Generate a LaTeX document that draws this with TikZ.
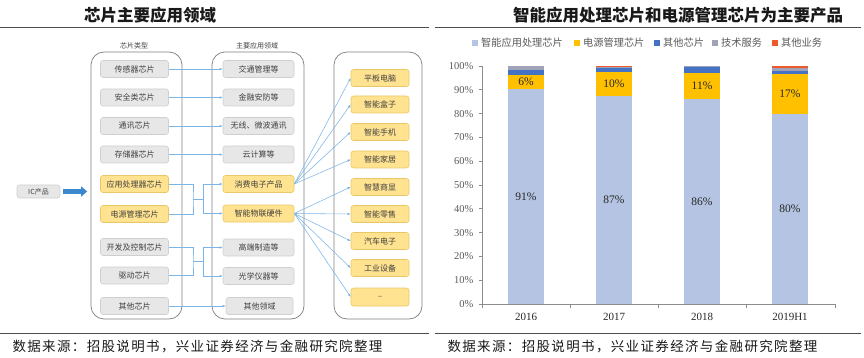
\documentclass[tikz,border=0pt]{standalone}
\usepackage{fontspec}
\setmainfont{Liberation Serif}
\newfontfamily\cjk{Noto Sans CJK SC}
\newfontfamily\cjksp[LetterSpace=10]{Noto Sans CJK SC}
\usetikzlibrary{arrows.meta}
\definecolor{boxgray}{HTML}{E7E7E7}
\definecolor{boxedge}{HTML}{CFCFCF}
\definecolor{boxyel}{HTML}{FFE390}
\definecolor{yeledge}{HTML}{E9C766}
\definecolor{txt}{HTML}{404040}
\definecolor{contgray}{HTML}{7F7F7F}
\definecolor{wireblue}{HTML}{7DB4E8}
\definecolor{bigarrow}{HTML}{3C88CF}
\definecolor{cLight}{HTML}{B4C4E2}
\definecolor{cGold}{HTML}{FFC000}
\definecolor{cBlue}{HTML}{4472C4}
\definecolor{cGrey}{HTML}{A0A3B8}
\definecolor{cRed}{HTML}{EE5A2C}
\definecolor{axisgray}{HTML}{8C8C8C}
\definecolor{lbl}{HTML}{595959}
\tikzset{
  gbox/.style={rounded corners=2.5pt, draw=boxedge, fill=boxgray, line width=0.6pt,
    minimum height=17pt, inner sep=0pt, font=\cjk\fontsize{8}{9}\selectfont, text=txt},
  ybox/.style={gbox, fill=boxyel, draw=yeledge},
  lw/.style={minimum width=68pt},
  mw/.style={minimum width=71pt},
  rw/.style={minimum width=58pt},
  cont/.style={draw=contgray, rounded corners=13pt, line width=0.7pt, inner sep=0pt},
  wire/.style={draw=wireblue, line width=0.55pt},
  wirearr/.style={wire, -{Latex[length=3.2pt,width=2.6pt]}},
  hdr/.style={font=\cjk\fontsize{7}{8}\selectfont, text=txt},
  ttl/.style={font=\cjk\bfseries\fontsize{16.5}{18}\selectfont, text=black!90},
  src/.style={font=\cjksp\fontsize{13.5}{15}\selectfont, text=black!90, anchor=west},
  ylab/.style={font=\fontsize{10.5}{12}\selectfont, text=lbl, anchor=east},
  xlab/.style={font=\fontsize{11}{12}\selectfont, text=black!85},
  dlab/.style={font=\fontsize{11.5}{13}\selectfont, text=black!85},
  legtxt/.style={font=\cjk\fontsize{10.2}{12}\selectfont, text=lbl, anchor=west, inner sep=0pt}
}
\newcommand\barseg[4]{\fill[#4] (#1-18,#2) rectangle (#1+18,#3);}
\begin{document}
\begin{tikzpicture}[x=1pt,y=-1pt]
\useasboundingbox (0,0) rectangle (864,358);
% titles and rules
\node[ttl] (t1) at (150,15) {芯片主要应用领域};
\node[ttl] (t2) at (678,15) {智能应用处理芯片和电源管理芯片为主要产品};
\draw[line width=1pt, black!70] (0,28) -- (429,28);
\draw[line width=1pt, black!70] (435,28) -- (861,28);
\draw[line width=1pt, black!70] (0,333) -- (429,333);
\draw[line width=1pt, black!70] (435,333) -- (861,333);
\node[src] (s1) at (9,346) {数据来源：招股说明书，兴业证券经济与金融研究院整理};
\node[src] (s2) at (444,346) {数据来源：招股说明书，兴业证券经济与金融研究院整理};

% containers
\node[cont, minimum width=91pt, minimum height=267pt] (lc) at (136.5,185.5) {};
\node[cont, minimum width=92pt, minimum height=267pt] (mc) at (258,185.5) {};
\node[cont, minimum width=88pt, minimum height=267pt] (rc) at (378,185.5) {};
\node[hdr] (lh) at (134,46) {芯片类型};
\node[hdr] (mh) at (257,46) {主要应用领域};

% IC product
\node[gbox, minimum width=43pt, minimum height=13pt, font=\cjk\fontsize{7}{8}\selectfont] (ic) at (38.5,191.5) {IC产品};
\draw[bigarrow, line width=4.5pt, -{Triangle[length=6pt,width=10pt]}, shorten <=3pt, shorten >=3.5pt]
  (ic.east) -- (ic.east -| lc.west);

% left boxes
\node[gbox,lw] (l1) at (134.5,69) {传感器芯片};
\node[gbox,lw] (l2) at (134.5,97.5) {安全类芯片};
\node[gbox,lw] (l3) at (134.5,126) {通讯芯片};
\node[gbox,lw] (l4) at (134.5,154.5) {存储器芯片};
\node[ybox,lw] (l5) at (134.5,184) {应用处理器芯片};
\node[ybox,lw] (l6) at (134.5,214) {电源管理芯片};
\node[gbox,lw] (l7) at (134.5,247) {开发及控制芯片};
\node[gbox,lw] (l8) at (134.5,275.5) {驱动芯片};
\node[gbox,lw] (l9) at (134.5,306) {其他芯片};

% middle boxes
\node[gbox,mw] (m1) at (258.5,69) {交通管理等};
\node[gbox,mw] (m2) at (258.5,97.5) {金融安防等};
\node[gbox,mw] (m3) at (258.5,126) {无线、微波通讯};
\node[gbox,mw] (m4) at (258.5,154.5) {云计算等};
\node[ybox,mw] (m5) at (258.5,184) {消费电子产品};
\node[ybox,mw] (m6) at (258.5,213.5) {智能物联硬件};
\node[gbox,mw] (m7) at (258.5,247.5) {高端制造等};
\node[gbox,mw] (m8) at (258.5,276) {光学仪器等};
\node[gbox,minimum width=67pt] (m9) at (259.5,306) {其他领域};

% right boxes
\node[ybox,rw] (r1) at (380,78) {平板电脑};
\node[ybox,rw] (r2) at (380,104.5) {智能盒子};
\node[ybox,rw] (r3) at (380,132) {智能手机};
\node[ybox,rw] (r4) at (380,159.5) {智能家居};
\node[ybox,rw] (r5) at (380,187) {智慧商显};
\node[ybox,rw] (r6) at (380,214) {智能零售};
\node[ybox,rw] (r7) at (380,241) {汽车电子};
\node[ybox,rw] (r8) at (380,268) {工业设备};
\node[ybox,rw,minimum height=18pt,font=\fontsize{8}{9}\selectfont] (r9) at (380,297) {--};

% straight links
\foreach \i in {1,2,3,4,9} {
  \draw[wirearr] (l\i.east) -- (l\i.east -| m\i.west);
}
% merged links
\coordinate (ja) at (193,199);
\coordinate (jb) at (203,199);
\draw[wire] (l5.east) -| (ja) |- (l6.east);
\draw[wire] (ja) -- (jb);
\draw[wirearr] (jb) |- (m5.west);
\draw[wirearr] (jb) |- (m6.west);
\coordinate (jc) at (193,261);
\coordinate (jd) at (203,261);
\draw[wire] (l7.east) -| (jc) |- (l8.east);
\draw[wire] (jc) -- (jd);
\draw[wirearr] (jd) |- (m7.west);
\draw[wirearr] (jd) |- (m8.west);
% fans
\foreach \j in {1,2,3,4} { \draw[wirearr] (m5.east) -- (r\j.west); }
\foreach \j in {5,6,7,8,9} { \draw[wirearr] (m6.east) -- (r\j.west); }

% legend
\fill[cLight] (472,40) rectangle (478,46);
\node[legtxt] (g1) at (481,43) {智能应用处理芯片};
\fill[cGold] (574,40) rectangle (580,46);
\node[legtxt] (g2) at (583,43) {电源管理芯片};
\fill[cBlue] (654,40) rectangle (660,46);
\node[legtxt] (g3) at (663,43) {其他芯片};
\fill[cGrey] (712,40) rectangle (718,46);
\node[legtxt] (g4) at (721,43) {技术服务};
\fill[cRed] (772,40) rectangle (778,46);
\node[legtxt] (g5) at (781,43) {其他业务};

% chart
\begin{scope}[shift={(0,304)}, y=2.38pt]
  % 2016
  \barseg{526}{0}{90.5}{cLight}
  \barseg{526}{90.5}{96.3}{cGold}
  \barseg{526}{96.3}{98.3}{cBlue}
  \barseg{526}{98.3}{100}{cGrey}
  % 2017
  \barseg{614}{0}{87.5}{cLight}
  \barseg{614}{87.5}{97.4}{cGold}
  \barseg{614}{97.4}{99.5}{cBlue}
  \barseg{614}{99.5}{99.7}{cGrey}
  \barseg{614}{99.7}{100}{cRed}
  % 2018
  \barseg{702}{0}{86.0}{cLight}
  \barseg{702}{86.0}{97.2}{cGold}
  \barseg{702}{97.2}{99.5}{cBlue}
  \barseg{702}{99.5}{100}{cGrey}
  % 2019H1
  \barseg{790}{0}{79.7}{cLight}
  \barseg{790}{79.7}{96.6}{cGold}
  \barseg{790}{96.6}{97.7}{cBlue}
  \barseg{790}{97.7}{99.3}{cGrey}
  \barseg{790}{99.3}{100}{cRed}
  % axes
  \draw[axisgray, line width=0.7pt] (482,0) -- (482,100);
  \draw[axisgray, line width=0.7pt] (482,0) -- (835,0);
  \foreach \p in {0,10,...,100} {
    \draw[axisgray, line width=0.6pt] (482,\p) -- (479,\p);
    \node[ylab] at (477,\p) {\p\%};
  }
  \foreach \x in {482,570.25,658.5,746.75,835} {
    \draw[axisgray, line width=0.6pt] (\x,0) -- (\x,-1.7);
  }
  \node[xlab] at (526,-5.5) {2016};
  \node[xlab] at (614,-5.5) {2017};
  \node[xlab] at (702,-5.5) {2018};
  \node[xlab] at (790,-5.5) {2019H1};
  % data labels
  \node[dlab] at (526,45.2) {91\%};
  \node[dlab] at (526,93.4) {6\%};
  \node[dlab] at (614,43.7) {87\%};
  \node[dlab] at (614,92.4) {10\%};
  \node[dlab] at (702,43.0) {86\%};
  \node[dlab] at (702,91.5) {11\%};
  \node[dlab] at (790,39.9) {80\%};
  \node[dlab] at (790,88.2) {17\%};
\end{scope}
\end{tikzpicture}
\end{document}
